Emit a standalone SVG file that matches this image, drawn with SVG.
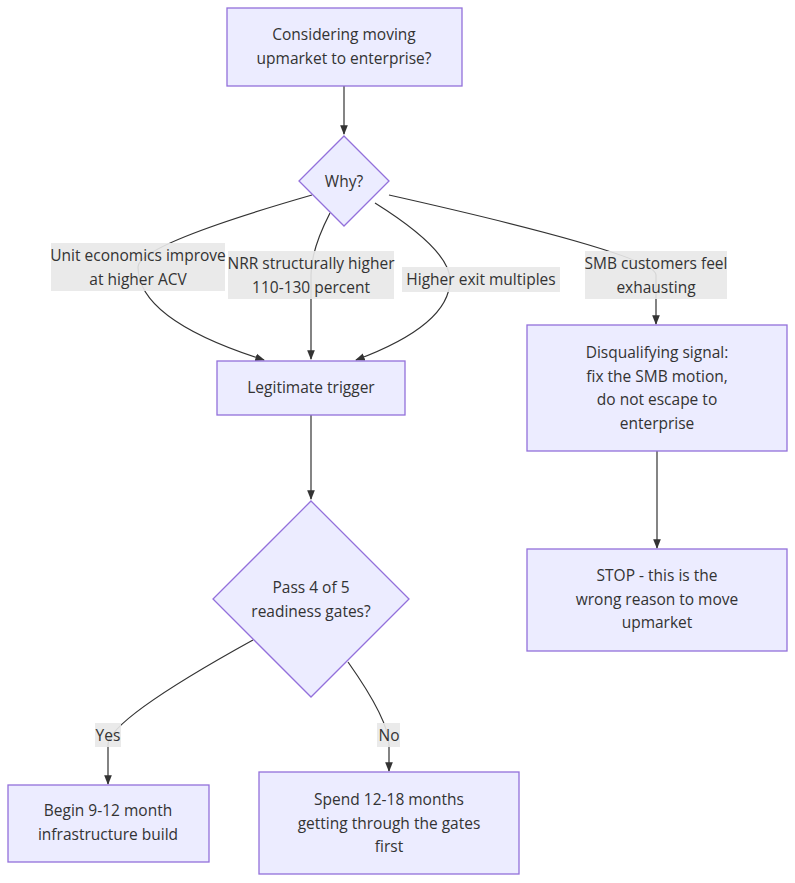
<svg xmlns="http://www.w3.org/2000/svg" width="795" height="883" viewBox="0 0 795 883">
<style>
.n{fill:#ECECFF;stroke:#9370DB;stroke-width:1.3}
.t{font-family:"Open Sans","Noto Sans",sans-serif;font-size:15.5px;fill:#333;text-anchor:middle}
.e{fill:none;stroke:#333;stroke-width:1.2}
.lb{fill:#e8e8e8;opacity:0.9}
</style>
<defs><marker id="ar" viewBox="0 0 10 10" refX="9" refY="5" markerWidth="8" markerHeight="8" orient="auto"><path d="M0,1L10,5L0,9z" fill="#333"/></marker></defs>
<rect width="795" height="883" fill="#fff"/>
<g id="connectors">
<path class="e" d="M344,86L344,134" marker-end="url(#ar)"/>
<path class="e" d="M312,195Q138,245 138,267Q138,320 264,360" marker-end="url(#ar)"/>
<path class="e" d="M330,213Q311,250 311,275L311,359" marker-end="url(#ar)"/>
<path class="e" d="M375,203Q450,250 450,280Q450,325 356,360" marker-end="url(#ar)"/>
<path class="e" d="M389,195Q656,255 656,275L656,324" marker-end="url(#ar)"/>
<path class="e" d="M311,415L311,499" marker-end="url(#ar)"/>
<path class="e" d="M657,451L657,548" marker-end="url(#ar)"/>
<path class="e" d="M253,640Q108,720 108,745L108,784" marker-end="url(#ar)"/>
<path class="e" d="M348,662Q389,720 389,745L389,771" marker-end="url(#ar)"/>
<rect class="lb" x="51" y="243" width="174" height="48"/>
<text class="t" x="138" y="261">Unit economics improve</text><text class="t" x="138" y="285">at higher ACV</text>
<rect class="lb" x="228" y="251" width="166" height="48"/>
<text class="t" x="311" y="269">NRR structurally higher</text><text class="t" x="311" y="293">110-130 percent</text>
<rect class="lb" x="402" y="267" width="158" height="25"/>
<text class="t" x="481" y="285">Higher exit multiples</text>
<rect class="lb" x="585" y="251" width="142" height="48"/>
<text class="t" x="656" y="269">SMB customers feel</text><text class="t" x="656" y="293">exhausting</text>
<rect class="lb" x="95" y="723" width="26" height="24"/><text class="t" x="108" y="741">Yes</text>
<rect class="lb" x="377" y="723" width="23" height="24"/><text class="t" x="389" y="741">No</text>
</g>
<g id="A"><rect class="n" x="227" y="8" width="235" height="78"/><text class="t" x="344" y="40">Considering moving</text><text class="t" x="344" y="64">upmarket to enterprise?</text></g>
<g id="Why"><polygon class="n" points="344,136 389,181 344,226 299,181"/><text class="t" x="344" y="187">Why?</text></g>
<g id="Legit"><rect class="n" x="217" y="361" width="188" height="54"/><text class="t" x="311" y="393">Legitimate trigger</text></g>
<g id="Pass"><polygon class="n" points="311,501 409,599 311,697 213,599"/><text class="t" x="311" y="593">Pass 4 of 5</text><text class="t" x="311" y="617">readiness gates?</text></g>
<g id="Disq"><rect class="n" x="527" y="325" width="260" height="126"/><text class="t" x="657" y="358">Disqualifying signal:</text><text class="t" x="657" y="382">fix the SMB motion,</text><text class="t" x="657" y="405">do not escape to</text><text class="t" x="657" y="429">enterprise</text></g>
<g id="Stop"><rect class="n" x="527" y="549" width="260" height="102"/><text class="t" x="657" y="581">STOP - this is the</text><text class="t" x="657" y="605">wrong reason to move</text><text class="t" x="657" y="628">upmarket</text></g>
<g id="Begin"><rect class="n" x="8" y="785" width="201" height="77"/><text class="t" x="108" y="816">Begin 9-12 month</text><text class="t" x="108" y="840">infrastructure build</text></g>
<g id="Spend"><rect class="n" x="259" y="772" width="260" height="102"/><text class="t" x="389" y="805">Spend 12-18 months</text><text class="t" x="389" y="829">getting through the gates</text><text class="t" x="389" y="852">first</text></g>
</svg>
